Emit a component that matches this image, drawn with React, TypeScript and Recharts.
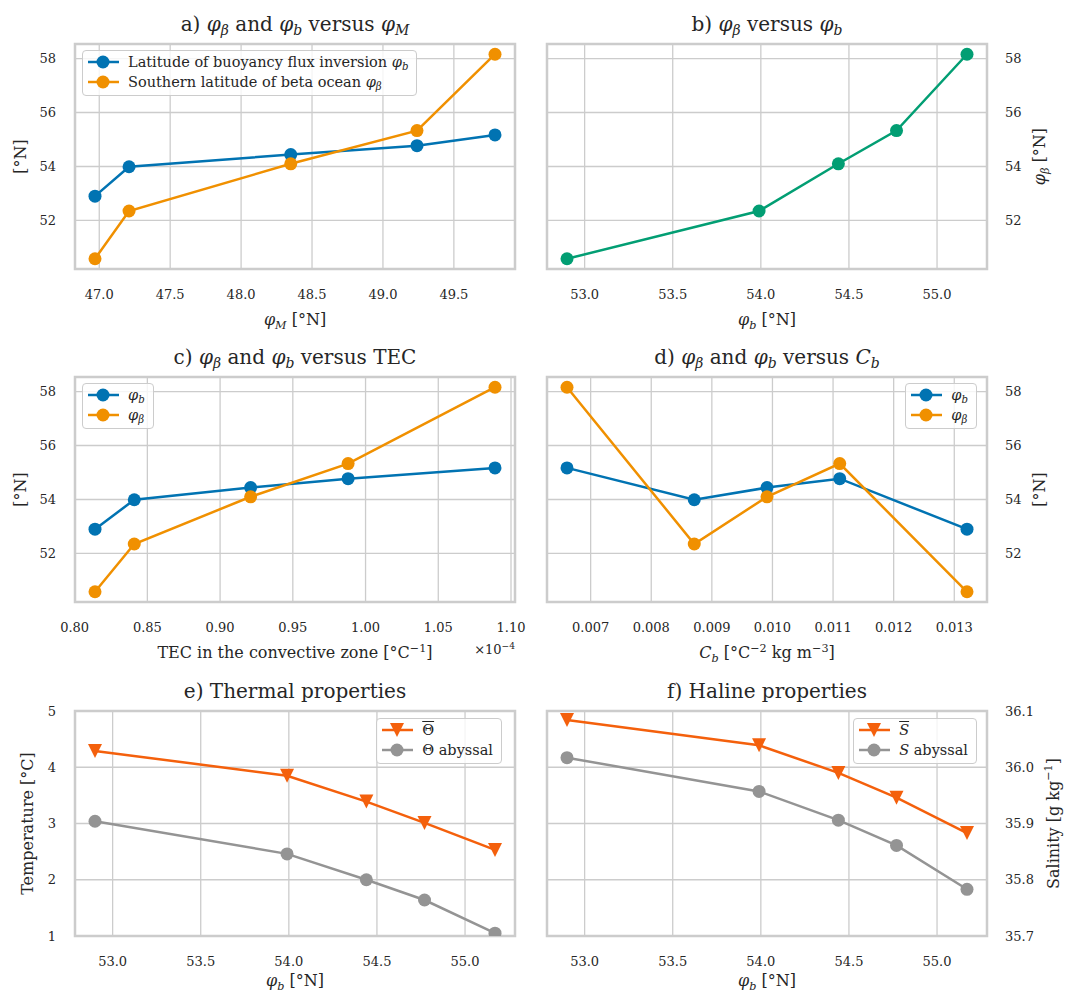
import React from 'react';
import { LineChart, Line, XAxis, YAxis, CartesianGrid, ReferenceArea, Legend, Label } from 'recharts';

// ---------------- data (one entry per experiment) ----------------
const phiM = [46.97, 47.21, 48.35, 49.24, 49.79];
const phiB = [52.9, 53.99, 54.44, 54.77, 55.17];
const phiBeta = [50.58, 52.35, 54.1, 55.33, 58.16];
const tec = [0.814, 0.841, 0.921, 0.988, 1.089]; // x 10^-4
const cb = [0.01321, 0.00871, 0.00991, 0.01111, 0.00661];
const thetaMean = [4.29, 3.85, 3.39, 3.01, 2.53];
const thetaAbyssal = [3.04, 2.46, 2.0, 1.64, 1.05];
const salMean = [36.084, 36.039, 35.99, 35.946, 35.883];
const salAbyssal = [36.017, 35.957, 35.906, 35.861, 35.783];

// ---------------- ticks ----------------
const latTicks = [52, 54, 56, 58];
const phiMTicks = [47.0, 47.5, 48.0, 48.5, 49.0, 49.5];
const phiBTicks = [53.0, 53.5, 54.0, 54.5, 55.0];
const tecTicks = [0.8, 0.85, 0.9, 0.95, 1.0, 1.05, 1.1];
const cbTicks = [0.007, 0.008, 0.009, 0.01, 0.011, 0.012, 0.013];
const tempTicks = [1, 2, 3, 4, 5];
const salTicks = [35.7, 35.8, 35.9, 36.0, 36.1];

const rows = phiB.map((b, i) => ({
  phiM: phiM[i], phiB: b, phiBeta: phiBeta[i], tec: tec[i], cb: cb[i],
  thetaMean: thetaMean[i], thetaAbyssal: thetaAbyssal[i], salMean: salMean[i], salAbyssal: salAbyssal[i],
}));
const rowsByCb = [...rows].sort((a, b) => a.cb - b.cb);

const pad = (v: number[]): [number, number] => {
  const mn = Math.min(...v), mx = Math.max(...v), m = (mx - mn) * 0.05;
  return [mn - m, mx + m];
};

// ---------------- styling ----------------
const FONT = '"DejaVu Serif", "Liberation Serif", serif';
const TXT = '#262626';
const GRID = '#cccccc';
const COL = { blue: '#0173B2', orange: '#F09000', green: '#029E73', red: '#F4600C', gray: '#949494' };
const PW = 440, PH = 225, YW = 60, YWR = 70, XH = 30;
const LABEL_FS = 16;

type Seg = [string, string?];

const svgText = (segs: Seg[], fs: number) => {
  let cur = 0;
  return segs.map(([t, f], k) => {
    const sub = f === 's' || f === 'S';
    const sup = f === 'p';
    const shift = sub ? fs * 0.24 : sup ? -fs * 0.38 : 0;
    const dy = shift - cur;
    cur = shift;
    return (
      <tspan key={k} dy={dy} fontSize={sub || sup ? fs * 0.7 : fs} fontStyle={f === 'i' || f === 's' ? 'italic' : 'normal'}>
        {t}
      </tspan>
    );
  });
};

const htmlText = (segs: Seg[]) =>
  segs.map(([t, f], k) => {
    const st: React.CSSProperties = {};
    if (f === 'i' || f === 's' || f === 'oi') st.fontStyle = 'italic';
    if (f === 's' || f === 'S') { st.fontSize = '0.7em'; st.position = 'relative'; st.top = '0.28em'; }
    if (f === 'p') { st.fontSize = '0.7em'; st.position = 'relative'; st.top = '-0.4em'; }
    if (f === 'o' || f === 'oi') st.textDecoration = 'overline';
    return <span key={k} style={st}>{t}</span>;
  });

const phi = (s: string): Seg[] => [['φ', 'i'], [s, 's']];

type Series = { key: string; color: string; marker: 'o' | 'v' };
type LegendItem = { label: Seg[]; color: string; marker: 'o' | 'v' };

type PanelDef = {
  left: number; top: number; width: number; height: number;
  plotX: number; plotY: number; yRight?: boolean;
  data: any[]; xKey: string; xDomain: [number, number]; xTicks: number[]; xDec: number;
  yDomain: [number, number]; yTicks: number[]; yDec: number;
  series: Series[]; title: Seg[]; xLabel: Seg[]; xLabelDy: number; yLabel: Seg[]; yLabelOff: number;
  offsetText?: Seg[];
  legend?: { left?: number; right?: number; top: number; items: LegendItem[] };
};

const Marker = ({ m, cx, cy, color }: { m: 'o' | 'v'; cx: number; cy: number; color: string }) =>
  m === 'o' ? (
    <circle cx={cx} cy={cy} r={6.5} fill={color} />
  ) : (
    <polygon points={`${cx - 7},${cy - 7} ${cx + 7},${cy - 7} ${cx},${cy + 7}`} fill={color} />
  );

const LegendBox = ({ items }: { items: LegendItem[] }) => (
  <div
    style={{
      background: 'rgba(255,255,255,0.8)', border: `1px solid ${GRID}`, borderRadius: 4,
      padding: '1px 8px 3px 5px', fontFamily: FONT, fontSize: 14.5, color: TXT, whiteSpace: 'nowrap',
    }}
  >
    {items.map((it, k) => (
      <div key={k} style={{ display: 'flex', alignItems: 'center', height: 20 }}>
        <svg width={32} height={20} style={{ marginRight: 8, flex: 'none' }}>
          <line x1={0} y1={10} x2={31} y2={10} stroke={it.color} strokeWidth={2.5} />
          <Marker m={it.marker} cx={15} cy={10} color={it.color} />
        </svg>
        <span>{htmlText(it.label)}</span>
      </div>
    ))}
  </div>
);

function Panel(p: PanelDef) {
  const ml = p.yRight ? p.plotX : p.plotX - YW;
  const mr = p.yRight ? p.width - p.plotX - PW - YWR : p.width - p.plotX - PW;
  const mb = p.height - p.plotY - PH - XH;
  const cx = p.plotX + PW / 2;
  const bottom = p.plotY + PH;
  const right = p.plotX + PW;
  const ylx = p.yRight ? right + p.yLabelOff + 5 : p.plotX - p.yLabelOff + 5;
  const yly = p.plotY + PH / 2;

  const xTick = (tp: any) => (
    <text x={tp.x} y={tp.y + 30} textAnchor="middle" fontFamily={FONT} fontSize={13} fill={TXT}>
      {Number(tp.payload.value).toFixed(p.xDec)}
    </text>
  );
  const yTick = (tp: any) => (
    <text
      x={p.yRight ? tp.x + 18 : tp.x - 19}
      y={tp.y + 4.7}
      textAnchor={p.yRight ? 'start' : 'end'}
      fontFamily={FONT}
      fontSize={13}
      fill={TXT}
    >
      {Number(tp.payload.value).toFixed(p.yDec)}
    </text>
  );

  return (
    <div style={{ position: 'absolute', left: p.left, top: p.top, width: p.width, height: p.height }}>
      <LineChart width={p.width} height={p.height} data={p.data} margin={{ top: p.plotY, right: mr, bottom: mb, left: ml }}>
        <CartesianGrid stroke={GRID} strokeWidth={1.3} />
        <XAxis
          dataKey={p.xKey}
          type="number"
          domain={p.xDomain}
          ticks={p.xTicks}
          interval={0}
          allowDataOverflow
          tickLine={false}
          axisLine={false}
          tickSize={0}
          tickMargin={0}
          height={XH}
          tick={xTick}
        >
          <Label
            content={() => (
              <g fontFamily={FONT} fill={TXT}>
                <text x={cx} y={p.plotY - 13.5} textAnchor="middle" fontSize={20} fill={TXT}>
                  {svgText(p.title, 20)}
                </text>
                <text x={cx} y={bottom + p.xLabelDy} textAnchor="middle" fontSize={LABEL_FS} fill={TXT}>
                  {svgText(p.xLabel, LABEL_FS)}
                </text>
                {p.offsetText && (
                  <text x={right} y={bottom + 52} textAnchor="end" fontSize={13} fill={TXT}>
                    {svgText(p.offsetText, 13)}
                  </text>
                )}
              </g>
            )}
          />
        </XAxis>
        <YAxis
          type="number"
          domain={p.yDomain}
          ticks={p.yTicks}
          interval={0}
          allowDataOverflow
          orientation={p.yRight ? 'right' : 'left'}
          width={p.yRight ? YWR : YW}
          tickLine={false}
          axisLine={false}
          tickSize={0}
          tickMargin={0}
          tick={yTick}
        >
          <Label
            content={() => (
              <text
                x={ylx}
                y={yly}
                textAnchor="middle"
                fontFamily={FONT}
                fontSize={LABEL_FS}
                fill={TXT}
                transform={`rotate(-90, ${ylx}, ${yly})`}
              >
                {svgText(p.yLabel, LABEL_FS)}
              </text>
            )}
          />
        </YAxis>
        <ReferenceArea
          x1={p.xDomain[0]}
          x2={p.xDomain[1]}
          y1={p.yDomain[0]}
          y2={p.yDomain[1]}
          fill="none"
          fillOpacity={0}
          stroke={GRID}
          strokeWidth={2.5}
        />
        {p.series.map((s) => (
          <Line
            key={s.key}
            dataKey={s.key}
            type="linear"
            stroke={s.color}
            strokeWidth={2.5}
            isAnimationActive={false}
            activeDot={false}
            dot={(dp: any) => <Marker key={`${s.key}-${dp.index}`} m={s.marker} cx={dp.cx} cy={dp.cy} color={s.color} />}
          />
        ))}
        {p.legend && (
          <Legend
            layout="vertical"
            verticalAlign="middle"
            align="center"
            wrapperStyle={{
              top: p.legend.top,
              ...(p.legend.left !== undefined ? { left: p.legend.left } : { right: p.legend.right }),
              width: 'auto',
              height: 'auto',
            }}
            content={() => <LegendBox items={p.legend!.items} />}
          />
        )}
      </LineChart>
    </div>
  );
}

const latDomain = pad([...phiB, ...phiBeta]);

const legendBoth: LegendItem[] = [
  { label: phi('b'), color: COL.blue, marker: 'o' },
  { label: phi('β'), color: COL.orange, marker: 'o' },
];

const panels: PanelDef[] = [
  {
    left: 0, top: 0, width: 533, height: 334, plotX: 75, plotY: 44,
    data: rows, xKey: 'phiM', xDomain: pad(phiM), xTicks: phiMTicks, xDec: 1,
    yDomain: latDomain, yTicks: latTicks, yDec: 0,
    series: [
      { key: 'phiB', color: COL.blue, marker: 'o' },
      { key: 'phiBeta', color: COL.orange, marker: 'o' },
    ],
    title: [['a) '], ...phi('β'), [' and '], ...phi('b'), [' versus '], ...phi('M')],
    xLabel: [...phi('M'), [' [°N]']], xLabelDy: 56,
    yLabel: [['[°N]']], yLabelOff: 54.5,
    legend: {
      left: 82, top: 50,
      items: [
        { label: [['Latitude of buoyancy flux inversion '], ...phi('b')], color: COL.blue, marker: 'o' },
        { label: [['Southern latitude of beta ocean '], ...phi('β')], color: COL.orange, marker: 'o' },
      ],
    },
  },
  {
    left: 533, top: 0, width: 533, height: 334, plotX: 14, plotY: 44, yRight: true,
    data: rows, xKey: 'phiB', xDomain: pad(phiB), xTicks: phiBTicks, xDec: 1,
    yDomain: pad(phiBeta), yTicks: latTicks, yDec: 0,
    series: [{ key: 'phiBeta', color: COL.green, marker: 'o' }],
    title: [['b) '], ...phi('β'), [' versus '], ...phi('b')],
    xLabel: [...phi('b'), [' [°N]']], xLabelDy: 56,
    yLabel: [...phi('β'), [' [°N]']], yLabelOff: 53,
  },
  {
    left: 0, top: 334, width: 533, height: 334, plotX: 75, plotY: 43,
    data: rows, xKey: 'tec', xDomain: pad(tec), xTicks: tecTicks, xDec: 2,
    yDomain: latDomain, yTicks: latTicks, yDec: 0,
    series: [
      { key: 'phiB', color: COL.blue, marker: 'o' },
      { key: 'phiBeta', color: COL.orange, marker: 'o' },
    ],
    title: [['c) '], ...phi('β'), [' and '], ...phi('b'), [' versus TEC']],
    xLabel: [['TEC in the convective zone [°C'], ['−1', 'p'], [']']], xLabelDy: 56,
    yLabel: [['[°N]']], yLabelOff: 54.5,
    offsetText: [['×10'], ['−4', 'p']],
    legend: { left: 82, top: 49, items: legendBoth },
  },
  {
    left: 533, top: 334, width: 533, height: 334, plotX: 14, plotY: 43, yRight: true,
    data: rowsByCb, xKey: 'cb', xDomain: pad(cb), xTicks: cbTicks, xDec: 3,
    yDomain: latDomain, yTicks: latTicks, yDec: 0,
    series: [
      { key: 'phiB', color: COL.blue, marker: 'o' },
      { key: 'phiBeta', color: COL.orange, marker: 'o' },
    ],
    title: [['d) '], ...phi('β'), [' and '], ...phi('b'), [' versus '], ['C', 'i'], ['b', 's']],
    xLabel: [['C', 'i'], ['b', 's'], [' [°C'], ['−2', 'p'], [' kg m'], ['−3', 'p'], [']']], xLabelDy: 56,
    yLabel: [['[°N]']], yLabelOff: 52.5,
    legend: { right: 89, top: 49, items: legendBoth },
  },
  {
    left: 0, top: 668, width: 533, height: 328, plotX: 75, plotY: 43,
    data: rows, xKey: 'phiB', xDomain: pad(phiB), xTicks: phiBTicks, xDec: 1,
    yDomain: [1, 5], yTicks: tempTicks, yDec: 0,
    series: [
      { key: 'thetaMean', color: COL.red, marker: 'v' },
      { key: 'thetaAbyssal', color: COL.gray, marker: 'o' },
    ],
    title: [['e) Thermal properties']],
    xLabel: [...phi('b'), [' [°N]']], xLabelDy: 50,
    yLabel: [['Temperature [°C]']], yLabelOff: 47,
    legend: {
      right: 31, top: 50,
      items: [
        { label: [['Θ', 'o']], color: COL.red, marker: 'v' },
        { label: [['Θ abyssal']], color: COL.gray, marker: 'o' },
      ],
    },
  },
  {
    left: 533, top: 668, width: 533, height: 328, plotX: 14, plotY: 43, yRight: true,
    data: rows, xKey: 'phiB', xDomain: pad(phiB), xTicks: phiBTicks, xDec: 1,
    yDomain: [35.7, 36.1], yTicks: salTicks, yDec: 1,
    series: [
      { key: 'salMean', color: COL.red, marker: 'v' },
      { key: 'salAbyssal', color: COL.gray, marker: 'o' },
    ],
    title: [['f) Haline properties']],
    xLabel: [...phi('b'), [' [°N]']], xLabelDy: 50,
    yLabel: [['Salinity [g kg'], ['−1', 'p'], [']']], yLabelOff: 66.5,
    legend: {
      right: 89, top: 50,
      items: [
        { label: [['S', 'oi']], color: COL.red, marker: 'v' },
        { label: [['S', 'i'], [' abyssal']], color: COL.gray, marker: 'o' },
      ],
    },
  },
];

export default function App() {
  return (
    <div
      style={{
        position: 'absolute', left: 0, top: 0, width: 1066, height: 996,
        overflow: 'hidden', background: '#ffffff', fontFamily: FONT,
      }}
    >
      {panels.map((p, i) => (
        <Panel key={i} {...p} />
      ))}
    </div>
  );
}
